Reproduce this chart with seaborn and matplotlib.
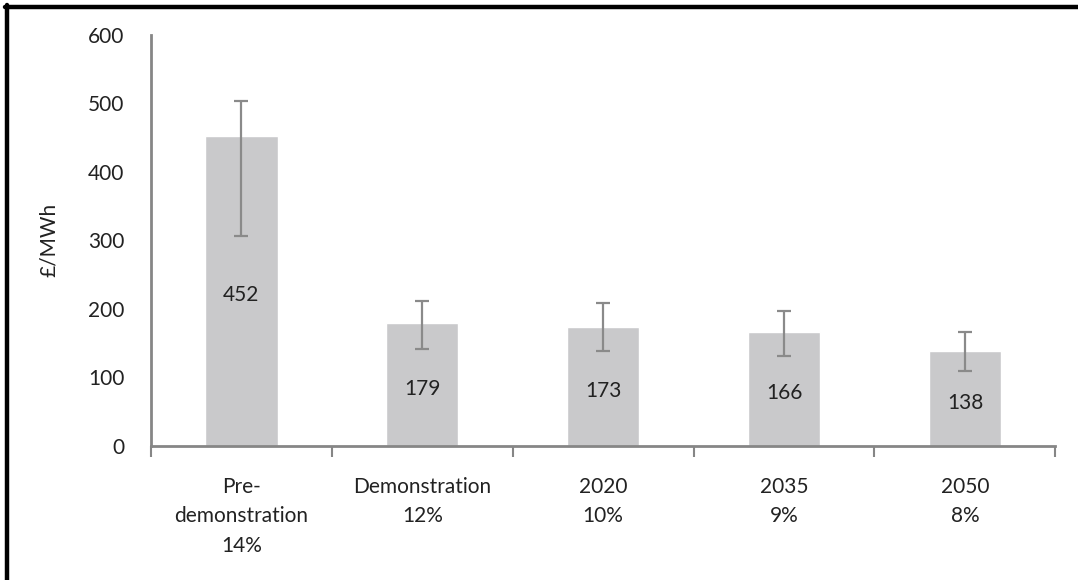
import matplotlib
matplotlib.use("Agg")
import matplotlib.pyplot as plt
from matplotlib.lines import Line2D
import pandas as pd
import seaborn as sns

# data
categories = ["Pre-\ndemonstration\n14%", "Demonstration\n12%", "2020\n10%", "2035\n9%", "2050\n8%"]
costs = [452, 179, 173, 166, 138]
err_low = [306, 142, 139, 131, 110]
err_high = [503, 211, 208, 197, 166]

df = pd.DataFrame({"stage": categories, "cost": costs})

sns.set_style("white")
plt.rcParams["font.family"] = ["Lato", "DejaVu Sans"]

fig = plt.figure(figsize=(10.78, 5.8), dpi=100)
ax = fig.add_axes([0.140, 0.231, 0.839, 0.709])

sns.barplot(data=df, x="stage", y="cost", color="#c9c9cb", saturation=1,
            width=0.4, ax=ax, errorbar=None)

# asymmetric error bars
xs = range(len(costs))
lower = [c - l for c, l in zip(costs, err_low)]
upper = [h - c for c, h in zip(costs, err_high)]
ax.errorbar(xs, costs, yerr=[lower, upper], fmt="none", ecolor="#8a8a8a",
            elinewidth=1.6, capsize=5, capthick=1.6)

# value labels roughly in the middle of each bar
for x, c in zip(xs, costs):
    ax.annotate(str(c), (x, c / 2), xytext=(0, -3), textcoords="offset points",
                ha="center", va="center", fontsize=15, color="#222222")

ax.set_xlim(-0.5, len(costs) - 0.5)
ax.set_ylim(0, 600)
ax.set_yticks(range(0, 601, 100))
ax.tick_params(axis="y", length=0, pad=19, labelsize=15, labelcolor="#222222")

# category boundary ticks, labels at the centres
ax.set_xticks([i - 0.5 for i in range(len(costs) + 1)])
ax.set_xticklabels([])
ax.set_xticks(list(xs), minor=True)
ax.set_xticklabels(categories, minor=True, fontsize=15, color="#222222", linespacing=1.6)
ax.tick_params(axis="x", which="major", length=8, width=1.5, color="#868686", direction="out")
ax.tick_params(axis="x", which="minor", length=0, pad=22)
ax.xaxis.set_tick_params(bottom=True)

ax.set_xlabel("")
ax.set_ylabel("£/MWh", fontsize=15, color="#222222", labelpad=21)

for side in ["top", "right"]:
    ax.spines[side].set_visible(False)
for side in ["left", "bottom"]:
    ax.spines[side].set_color("#868686")
    ax.spines[side].set_linewidth(2)

# black frame on the top and left edges only
w, h = 1078, 580
fig.lines.append(Line2D([5 / w, 1], [1 - 7 / h, 1 - 7 / h], transform=fig.transFigure,
                        color="black", linewidth=3.2))
fig.lines.append(Line2D([7 / w, 7 / w], [0, 1 - 5 / h], transform=fig.transFigure,
                        color="black", linewidth=3.2))

fig.savefig("out.png", dpi=100)
